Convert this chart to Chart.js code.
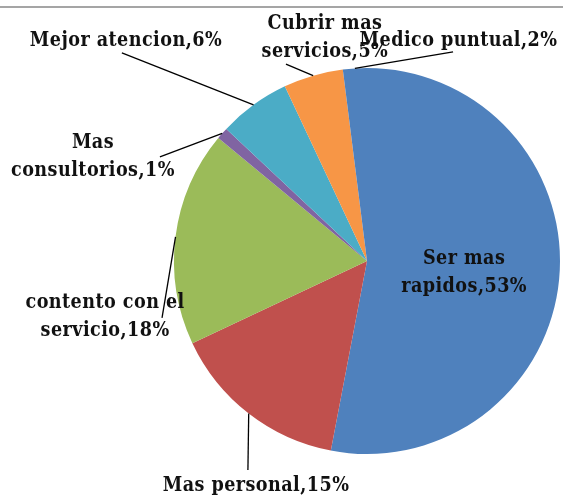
<!DOCTYPE html>
<html>
<head>
<meta charset="utf-8">
<script src="https://cdn.jsdelivr.net/npm/chart.js"></script>
<style>
  body { margin: 0; background: #fff; }
  #wrap { position: relative; width: 563px; height: 498px; }
  #topline { position: absolute; left: 0; top: 6px; width: 563px; height: 0; border-top: 2px solid #a5a5a5; }
</style>
</head>
<body>
<div id="wrap">
  <canvas id="chart" width="563" height="498"></canvas>
  <div id="topline"></div>
</div>
<script>
// data
const labels = ['Ser mas rapidos', 'Mas personal', 'contento con el servicio', 'Mas consultorios', 'Mejor atencion', 'Cubrir mas servicios', 'Medico puntual'];
const values = [53, 15, 18, 1, 6, 5, 2];
const colors = ['#4F81BD', '#C0504D', '#9BBB59', '#8064A2', '#4BACC6', '#F79646', '#4F81BD'];

// label text lines (as shown on the chart)
const labelLines = [
  ['Ser mas', 'rapidos,53%'],
  ['Mas personal,15%'],
  ['contento con el', 'servicio,18%'],
  ['Mas', 'consultorios,1%'],
  ['Mejor atencion,6%'],
  ['Cubrir mas', 'servicios,5%'],
  ['Medico puntual,2%']
];

// label placement, in units of the pie radius, relative to the centre
// [labelX, labelY, leaderEndX, leaderEndY] (null leader = inside label)
const labelPlace = [
  [0.503, 0.062, null, null],
  [-0.575, 1.165, -0.617, 1.083],
  [-1.357, 0.29, -1.062, 0.295],
  [-1.42, -0.54, -1.073, -0.539],
  [-1.249, -1.14, -1.27, -1.078],
  [-0.218, -1.155, -0.42, -1.02],
  [0.474, -1.14, 0.446, -1.083]
];

const pieLabels = {
  id: 'pieLabels',
  afterDatasetsDraw(chart) {
    const ctx = chart.ctx;
    const meta = chart.getDatasetMeta(0);
    ctx.save();
    ctx.font = 'bold 20px "DejaVu Serif", serif';
    ctx.letterSpacing = '0.5px';
    ctx.fillStyle = '#111';
    ctx.strokeStyle = '#000';
    ctx.lineWidth = 1.3;
    ctx.textAlign = 'center';
    ctx.textBaseline = 'middle';
    const lh = 28;
    meta.data.forEach((arc, i) => {
      const p = arc.getProps(['x', 'y', 'startAngle', 'endAngle', 'outerRadius'], true);
      const r = p.outerRadius;
      const mid = (p.startAngle + p.endAngle) / 2;
      const pl = labelPlace[i];
      if (pl[2] !== null) {
        ctx.beginPath();
        ctx.moveTo(p.x + Math.cos(mid) * r, p.y + Math.sin(mid) * r);
        ctx.lineTo(p.x + pl[2] * r, p.y + pl[3] * r);
        ctx.stroke();
      }
      const lines = labelLines[i];
      const cx = p.x + pl[0] * r;
      const cy = p.y + pl[1] * r - (lines.length - 1) * lh / 2;
      lines.forEach((t, k) => {
        ctx.save();
        ctx.translate(cx, cy + k * lh);
        ctx.scale(0.88, 1);
        ctx.fillText(t, 0, 0);
        ctx.restore();
      });
    });
    ctx.restore();
  }
};

new Chart(document.getElementById('chart').getContext('2d'), {
  type: 'pie',
  data: {
    labels,
    datasets: [{
      data: values,
      backgroundColor: colors,
      borderWidth: 0
    }]
  },
  options: {
    responsive: false,
    animation: false,
    layout: { padding: { left: 174, right: 3, top: 68, bottom: 44 } },
    plugins: {
      legend: { display: false },
      tooltip: { enabled: false }
    }
  },
  plugins: [pieLabels]
});
</script>
</body>
</html>
